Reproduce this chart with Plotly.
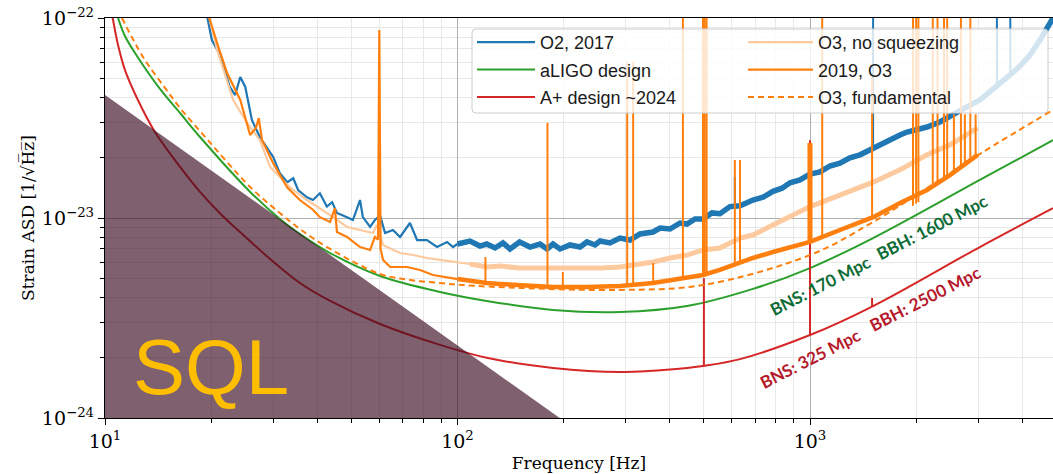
import plotly.graph_objects as go

# ---------------------------------------------------------------- data
# O2 (2017) strain ASD
o2_freq = [19.2, 19.6, 20.1, 21.2, 22.6, 23.4, 24.2, 25.0, 26.1, 27.5, 28.8, 30.0,
           31.3, 32.9, 34.2, 35.3, 37.4, 38.9, 40.7, 42.6, 44.1, 45.5, 48.6, 50.5,
           52.9, 53.9, 56.5, 58.3, 60.3, 62.3, 65.6, 68.7, 73.3, 76.8, 81.9, 87.5,
           93.4, 97.1,
           100, 108.5, 115.8, 121.0, 127.8, 134.6, 140.9, 150.0, 160.6, 171.4, 179.5,
           186.6, 195.4, 208.5, 222.6, 233.0, 245.5, 253.7, 270.8, 289.0, 308.6, 329.4,
           358.6, 375.4, 400.8, 427.8, 447.9, 471.9, 496.6, 527.2, 555.4, 592.9, 633.0,
           689.0, 735.6, 785.3, 833.0, 877.6, 936.8, 1000, 1068, 1139, 1216, 1298, 1386,
           1510, 1580, 1687, 1800, 1885, 2012, 2147, 2337, 2495, 2753, 3033, 3348, 3692,
           3942, 4208, 4492, 4702, 4890]
o2_asd = [1.16e-22, 9.77e-23, 7.76e-23, 6.53e-23, 4.52e-23, 4.12e-23, 5.07e-23, 4.52e-23,
          3.09e-23, 2.54e-23, 2.26e-23, 2.02e-23, 1.68e-23, 1.51e-23, 1.58e-23, 1.38e-23,
          1.27e-23, 1.23e-23, 1.33e-23, 1.14e-23, 1.20e-23, 1.06e-23, 1.01e-23, 9.77e-24,
          1.23e-23, 1.01e-23, 9.02e-24, 9.77e-24, 1.03e-23, 8.41e-24, 8.71e-24, 8.04e-24,
          9.44e-24, 7.76e-24, 7.76e-24, 7.16e-24, 7.59e-24, 7.16e-24,
          7.41e-24, 7.67e-24, 7.24e-24, 7.41e-24, 7.08e-24, 7.50e-24, 7.00e-24, 7.59e-24,
          7.16e-24, 7.41e-24, 7.00e-24, 7.41e-24, 7.00e-24, 7.33e-24, 7.16e-24, 7.59e-24,
          7.33e-24, 7.67e-24, 7.50e-24, 7.94e-24, 7.76e-24, 8.32e-24, 8.51e-24, 8.91e-24,
          8.81e-24, 9.44e-24, 9.33e-24, 9.89e-24, 9.89e-24, 1.06e-23, 1.05e-23, 1.14e-23,
          1.15e-23, 1.23e-23, 1.27e-23, 1.36e-23, 1.41e-23, 1.50e-23, 1.55e-23, 1.66e-23,
          1.70e-23, 1.82e-23, 1.88e-23, 2.00e-23, 2.07e-23, 2.24e-23, 2.34e-23, 2.48e-23,
          2.60e-23, 2.69e-23, 2.75e-23, 2.85e-23, 3.02e-23, 3.20e-23, 3.55e-23, 3.89e-23,
          4.47e-23, 5.19e-23, 5.75e-23, 6.53e-23, 7.76e-23, 8.91e-23, 1.0e-22]
o2_line_freq = [500, 612, 633, 1000, 1510, 3390, 3700]
o2_line_low = [1.01e-23, 1.12e-23, 1.16e-23, 1.68e-23, 2.26e-23, 4.4e-23, 5.1e-23]
o2_line_high = [1.74e-23, 1.60e-23, 1.60e-23, 2.37e-23, 1.2e-22, 1.2e-22, 1.2e-22]

# aLIGO design curve
aligo_freq = [10.89, 11.39, 12.32, 14.32, 16.33, 18.60, 25.81, 31.33, 35.73, 43.52, 60.3,
              89.2, 121, 186.6, 289, 448, 689, 1000, 1510, 3033, 4890]
aligo_asd = [1.0e-22, 8.13e-23, 6.46e-23, 4.42e-23, 3.35e-23, 2.54e-23, 1.35e-23, 9.89e-24,
             8.32e-24, 6.68e-24, 5.13e-24, 4.27e-24, 3.85e-24, 3.47e-24, 3.39e-24, 3.63e-24,
             4.42e-24, 5.62e-24, 7.94e-24, 1.55e-23, 2.45e-23]

# A+ design curve
aplus_freq = [10.33, 10.54, 10.89, 11.39, 12.32, 13.86, 16.33, 18.60, 21.60, 24.15, 29.39,
              35.73, 43.52, 60.3, 89.2, 121, 186.6, 289, 448, 496.6, 633, 1000, 1510,
              3033, 4890]
aplus_asd = [1.19e-22, 9.77e-23, 7.33e-23, 5.50e-23, 3.98e-23, 2.69e-23, 1.80e-23, 1.35e-23,
             1.02e-23, 8.51e-24, 6.24e-24, 4.73e-24, 3.85e-24, 2.95e-24, 2.32e-24, 2.00e-24,
             1.78e-24, 1.70e-24, 1.78e-24, 1.82e-24, 1.97e-24, 2.60e-24, 3.63e-24,
             7.16e-24, 1.12e-23]
aplus_line_freq = [500, 1000, 1500]
aplus_line_low = [1.82e-24, 2.60e-24, 3.63e-24]
aplus_line_high = [5.0e-24, 2.45e-23, 3.98e-24]

# O3 without squeezing
nosqz_freq = [19.4, 19.85, 20.8, 21.9, 23.1, 25.3, 27.5, 29.4, 31.3, 33.5, 37.4, 40.7, 44.4,
              48.6, 52.9, 57.6, 59.0, 61.5, 63.1, 68.7, 74.8, 81.9, 89.2, 97.1, 108.5, 121,
              132, 150, 171, 187, 209, 233, 254, 289, 329, 359, 401, 448, 497, 555, 633, 689,
              785, 878, 1000, 1216, 1510, 1800, 2147, 2495, 2844, 2990]
nosqz_asd = [1.1e-22, 9.77e-23, 6.92e-23, 5.19e-23, 3.89e-23, 2.99e-23, 2.45e-23, 1.80e-23,
             1.60e-23, 1.42e-23, 1.23e-23, 1.12e-23, 1.01e-23, 9.02e-24, 8.71e-24, 8.41e-24,
             9.23e-24, 7.33e-24, 7.16e-24, 6.68e-24, 6.53e-24, 6.31e-24, 6.17e-24, 6.03e-24,
             5.89e-24, 5.69e-24, 5.75e-24, 5.62e-24, 5.62e-24, 5.62e-24, 5.56e-24, 5.62e-24,
             5.62e-24, 5.69e-24, 5.89e-24, 6.03e-24, 6.31e-24, 6.53e-24, 6.92e-24, 7.08e-24,
             7.94e-24, 8.22e-24, 9.23e-24, 1.02e-23, 1.14e-23, 1.30e-23, 1.51e-23, 1.74e-23,
             2.07e-23, 2.32e-23, 2.66e-23, 2.82e-23]

# O3 (2019) strain ASD
o3_freq = [19.2, 19.85, 20.8, 22.2, 24.2, 25.8, 26.8, 27.3, 27.9, 30.0, 32.9, 35.7, 38.9,
           40.7, 43.5, 44.9, 45.5, 48.6, 52.9, 56.5, 58.3, 59.5, 60.0, 60.5, 61.5, 64.4,
           71.9, 78.3, 85.2, 93.4, 97.1, 100, 108.5, 121, 132, 150, 187, 233, 289, 359,
           448, 497, 555, 633, 689, 785, 878, 1000, 1216, 1510, 1800, 2147, 2495, 2990]
o3_asd = [1.12e-22, 9.77e-23, 7.50e-23, 5.31e-23, 3.89e-23, 2.60e-23, 2.82e-23, 3.16e-23,
          2.45e-23, 1.88e-23, 1.42e-23, 1.23e-23, 1.10e-23, 1.01e-23, 9.55e-24, 1.12e-23,
          8.51e-24, 8.04e-24, 7.16e-24, 6.92e-24, 8.04e-24, 7.8e-24, 8.71e-23, 7.0e-24,
          6.17e-24, 5.69e-24, 5.69e-24, 5.50e-24, 5.19e-24, 5.07e-24, 5.01e-24, 4.95e-24,
          4.84e-24, 4.73e-24, 4.68e-24, 4.62e-24, 4.52e-24, 4.52e-24, 4.57e-24, 4.73e-24,
          5.01e-24, 5.19e-24, 5.50e-24, 6.03e-24, 6.31e-24, 6.76e-24, 7.16e-24, 7.59e-24,
          8.71e-24, 1.01e-23, 1.19e-23, 1.38e-23, 1.64e-23, 2.07e-23]
o3_line_freq = [120, 180, 199, 303, 315, 359, 436, 497, 503, 509, 612, 633, 990, 1000,
                1010, 1083, 1500, 1960, 2000, 2030, 2230, 2300, 2400, 2450, 2560, 2680,
                2750, 2850, 2950]
o3_line_low = [4.73e-24, 4.52e-24, 4.52e-24, 4.6e-24, 4.6e-24, 4.73e-24, 4.95e-24, 5.19e-24,
               5.2e-24, 5.2e-24, 5.9e-24, 6.03e-24, 7.5e-24, 7.59e-24, 7.6e-24, 8.0e-24,
               1.0e-23, 1.15e-23, 1.18e-23, 1.2e-23, 1.45e-23, 1.5e-23, 1.55e-23, 1.6e-23,
               1.7e-23, 1.8e-23, 1.85e-23, 1.95e-23, 2.0e-23]
o3_line_high = [6.38e-24, 2.99e-23, 5.37e-24, 6.0e-23, 6.0e-23, 5.96e-24, 1.5e-22, 1.5e-22,
                1.5e-22, 1.5e-22, 1.95e-23, 1.95e-23, 2.37e-23, 2.37e-23, 2.37e-23, 1.5e-22,
                5.0e-23, 1.5e-22, 1.5e-22, 1.5e-22, 1.5e-22, 1.5e-22, 1.5e-22, 1.5e-22,
                3.3e-23, 1.5e-22, 3.3e-23, 1.5e-22, 3.3e-23]

# O3 fundamental noise budget
fund_freq = [11.17, 12.82, 14.80, 16.33, 18.60, 25.81, 31.33, 35.73, 43.52, 60.3, 73.3,
             89.2, 103.7, 150, 289, 497, 1000, 1510, 3033, 4890]
fund_asd = [1.0e-22, 6.38e-23, 4.47e-23, 3.55e-23, 2.72e-23, 1.43e-23, 1.06e-23, 8.81e-24,
            7.00e-24, 5.25e-24, 4.90e-24, 4.73e-24, 4.62e-24, 4.47e-24, 4.37e-24, 4.62e-24,
            6.53e-24, 9.55e-24, 2.09e-23, 3.47e-23]

# standard quantum limit region
sql_freq = [10, 195, 10]
sql_asd = [4.12e-23, 1.0e-24, 1.0e-24]

# axis tick labels
x_tick_vals = [10, 100, 1000]
x_tick_text = ["10<sup>1</sup>", "10<sup>2</sup>", "10<sup>3</sup>"]
y_tick_vals = [1e-24, 1e-23, 1e-22]
y_tick_text = ["10<sup>\u221224</sup>", "10<sup>\u221223</sup>", "10<sup>\u221222</sup>"]

# ---------------------------------------------------------------- styles
BLUE, GREEN, RED = "#1f77b4", "#2ca02c", "#d62728"
ORANGE, LIGHT_ORANGE = "#ff7f0e", "#fdca9f"
SPLIT_HZ = 100.0  # above this the measured spectra form a dense band

fig = go.Figure()


def split(freq, asd):
    """Return the low- and high-frequency parts, sharing the point at the split."""
    k = next(i for i, f in enumerate(freq) if f >= SPLIT_HZ)
    return (freq[:k + 1], asd[:k + 1]), (freq[k:], asd[k:])


def add_measured(freq, asd, name, color, band_width, legend, group):
    (lf, la), (hf, ha) = split(freq, asd)
    fig.add_trace(go.Scatter(x=lf, y=la, mode="lines", name=name,
                             line=dict(color=color, width=2.2),
                             legend=legend, legendgroup=group, hoverinfo="skip"))
    fig.add_trace(go.Scatter(x=hf, y=ha, mode="lines", showlegend=False,
                             line=dict(color=color, width=band_width),
                             legend=legend, legendgroup=group, hoverinfo="skip"))


def add_lines(freq, low, high, color, width, legend, group):
    xs, ys = [], []
    for f, lo, hi in zip(freq, low, high):
        xs += [f, f, None]
        ys += [lo, hi, None]
    fig.add_trace(go.Scatter(x=xs, y=ys, mode="lines", showlegend=False,
                             line=dict(color=color, width=width), connectgaps=False,
                             legend=legend, legendgroup=group, hoverinfo="skip"))


# O2
add_measured(o2_freq, o2_asd, "O2, 2017", BLUE, 5.5, "legend", "o2")
add_lines(o2_line_freq, o2_line_low, o2_line_high, BLUE, 2, "legend", "o2")

# design curves
fig.add_trace(go.Scatter(x=aligo_freq, y=aligo_asd, mode="lines", name="aLIGO design",
                         line=dict(color=GREEN, width=2, shape="spline"),
                         legend="legend", legendgroup="aligo", hoverinfo="skip"))
fig.add_trace(go.Scatter(x=aplus_freq, y=aplus_asd, mode="lines", name="A+ design ~2024",
                         line=dict(color=RED, width=2, shape="spline"),
                         legend="legend", legendgroup="aplus", hoverinfo="skip"))
add_lines(aplus_line_freq, aplus_line_low, aplus_line_high, RED, 2, "legend", "aplus")

# O3
add_measured(nosqz_freq, nosqz_asd, "O3, no squeezing", LIGHT_ORANGE, 5, "legend2", "nosqz")
add_measured(o3_freq, o3_asd, "2019, O3", ORANGE, 4.5, "legend2", "o3")
add_lines(o3_line_freq, o3_line_low, o3_line_high, ORANGE, 2, "legend2", "o3")
fig.add_trace(go.Scatter(x=fund_freq, y=fund_asd, mode="lines", name="O3, fundamental",
                         line=dict(color=ORANGE, width=2, dash="6px,4px", shape="spline"),
                         legend="legend2", legendgroup="fund", hoverinfo="skip"))

# SQL shading, drawn over the curves
fig.add_trace(go.Scatter(x=sql_freq, y=sql_asd, mode="lines", fill="toself",
                         fillcolor="rgba(58,10,32,0.65)", line=dict(width=0),
                         showlegend=False, hoverinfo="skip"))

# ---------------------------------------------------------------- layout
W, H = 1053, 474
ML, MR, MT, MB = 105, 0, 18, 56
PW, PH = W - ML - MR, H - MT - MB


def px_x(x):
    return (x - ML) / PW


def px_y(y):
    return (H - MB - y) / PH


def minor_vals(first_decade, last_decade):
    return [m * 10.0 ** d for d in range(first_decade, last_decade + 1) for m in range(2, 10)]


tick_font = dict(family="DejaVu Serif", size=19, color="black")
axis_common = dict(
    type="log", tickmode="array",
    ticks="outside", ticklen=6, tickwidth=1.2, tickcolor="black",
    showline=True, linecolor="black", linewidth=1.3,
    showgrid=True, gridcolor="#b0b0b0", gridwidth=1.3,
    tickfont=tick_font, zeroline=False,
)
minor_common = dict(tickmode="array", ticks="outside", ticklen=3.5, tickcolor="black",
                    showgrid=True, gridcolor="#e8e8e8", gridwidth=1)

fig.update_layout(
    width=W, height=H, autosize=False,
    margin=dict(l=ML, r=MR, t=MT, b=MB),
    paper_bgcolor="white", plot_bgcolor="white",
    xaxis=dict(axis_common, range=[1, 1 + PW / 352.5], mirror=True,
               tickvals=x_tick_vals, ticktext=x_tick_text,
               minor=dict(minor_common, tickvals=minor_vals(1, 3)),
               title=dict(text="Frequency [Hz]", standoff=6,
                          font=dict(family="DejaVu Serif", size=17, color="black"))),
    yaxis=dict(axis_common, range=[-24, -22],
               tickvals=y_tick_vals, ticktext=y_tick_text,
               minor=dict(minor_common, tickvals=minor_vals(-24, -23)),
               title=dict(text="Strain ASD [1/\u221aH\u0305z\u0305]", standoff=2,
                          font=dict(family="DejaVu Serif", size=17, color="black"))),
    legend=dict(x=px_x(472), y=px_y(24), xanchor="left", yanchor="top",
                bgcolor="rgba(0,0,0,0)", borderwidth=0, itemwidth=58,
                traceorder="grouped", tracegroupgap=1,
                font=dict(family="Liberation Sans", size=18, color="#1a1a1a")),
    legend2=dict(x=px_x(743), y=px_y(24), xanchor="left", yanchor="top",
                 bgcolor="rgba(0,0,0,0)", borderwidth=0, itemwidth=65,
                 traceorder="grouped", tracegroupgap=1,
                 font=dict(family="Liberation Sans", size=18, color="#1a1a1a")),
)

# legend frame with rounded corners
x0, x1, y0, y1 = px_x(472), px_x(1048), px_y(113), px_y(29)
rx, ry = 4 / PW, 4 / PH
frame = (f"M{x0 + rx},{y1} L{x1 - rx},{y1} Q{x1},{y1} {x1},{y1 - ry} "
         f"L{x1},{y0 + ry} Q{x1},{y0} {x1 - rx},{y0} L{x0 + rx},{y0} "
         f"Q{x0},{y0} {x0},{y0 + ry} L{x0},{y1 - ry} Q{x0},{y1} {x0 + rx},{y1} Z")
fig.add_shape(type="path", path=frame, xref="paper", yref="paper", layer="above",
              fillcolor="rgba(255,255,255,0.8)", line=dict(color="#cccccc", width=1))

# SQL label
fig.add_annotation(text="SQL", x=1.0738, y=-23.745, xref="x", yref="y",
                   xanchor="left", yanchor="middle", showarrow=False,
                   font=dict(family="Liberation Sans", size=78, color="#ffbf00"))

# range labels along the design curves
range_labels = [
    ("BNS: 170 Mpc", 3.0284, -23.335, "#0e6b35"),
    ("BBH: 1600 Mpc", 3.3433, -23.045, "#0e6b35"),
    ("BNS: 325 Mpc", 3.0, -23.70, "#b5192b"),
    ("BBH: 2500 Mpc", 3.326, -23.40, "#b5192b"),
]
for text, lx, ly, col in range_labels:
    fig.add_annotation(text=text, x=lx, y=ly, xref="x", yref="y", showarrow=False,
                       textangle=-27,
                       font=dict(family="Lato", size=17, color=col, weight="bold"))

fig.write_html("out.html")
